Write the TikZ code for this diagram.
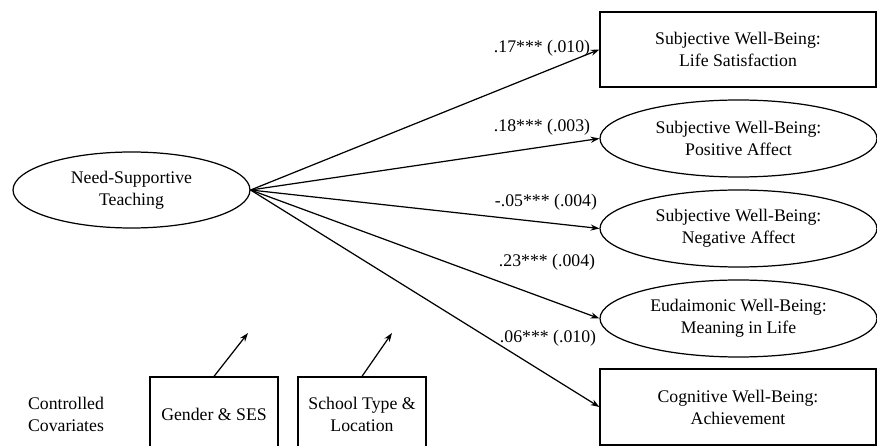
\documentclass[tikz,border=0pt]{standalone}
\usepackage{fontspec}
\setmainfont{Liberation Serif}
\usetikzlibrary{shapes.geometric,arrows.meta}
\tikzset{every node/.style={font=\fontsize{10.1}{12.5}\selectfont,align=center,inner sep=0pt},
         latent/.style={draw,ellipse,line width=0.7pt},
         observed/.style={draw,rectangle,line width=0.7pt},
         path/.style={draw,line width=0.7pt,-{Stealth[length=5pt,width=3.5pt]}},
         coef/.style={draw=none}}
\begin{document}
\begin{tikzpicture}[x=0.02cm,y=-0.02cm]
\useasboundingbox (0,0) rectangle (877,446);
\clip (0,0) rectangle (877,446);
% predictor
\node[latent,minimum width=4.74cm,minimum height=1.52cm] (nst) at (131.5,190) {Need-Supportive\\Teaching};
% outcomes
\node[observed,minimum width=5.52cm,minimum height=1.5cm] (ls) at (738,49.5) {Subjective Well-Being:\\Life Satisfaction};
\node[latent,minimum width=5.54cm,minimum height=1.54cm] (pa) at (738.5,138.5) {Subjective Well-Being:\\Positive Affect};
\node[latent,minimum width=5.54cm,minimum height=1.54cm] (na) at (738.5,228.5) {Subjective Well-Being:\\Negative Affect};
\node[latent,minimum width=5.54cm,minimum height=1.54cm] (ml) at (738.5,318.5) {Eudaimonic Well-Being:\\Meaning in Life};
\node[observed,minimum width=5.52cm,minimum height=1.52cm] (ach) at (738,407) {Cognitive Well-Being:\\Achievement};
% covariates
\node[coef] (cc) at (66,414) {Controlled\\Covariates};
\node[observed,minimum width=2.56cm,minimum height=1.48cm] (gs) at (214,414) {Gender \& SES};
\node[observed,minimum width=2.56cm,minimum height=1.48cm] (stl) at (362,414) {School Type \&\\Location};
\coordinate (gsend) at (248,333);
\coordinate (stlend) at (392,333);

\draw[path] (nst.east) -- (ls.west);
\draw[path] (nst.east) -- (pa.west);
\draw[path] (nst.east) -- (na.west);
\draw[path] (nst.east) -- (ml.west);
\draw[path] (nst.east) -- (ach.west);
\draw[path] (gs.north) -- (gsend);
\draw[path] (stl.north) -- (stlend);

\node[coef] (c1) at (542,48) {.17*** (.010)};
\node[coef] (c2) at (542,127) {.18*** (.003)};
\node[coef] (c3) at (546,202) {-.05*** (.004)};
\node[coef] (c4) at (547,262) {.23*** (.004)};
\node[coef] (c5) at (548,338) {.06*** (.010)};
\end{tikzpicture}
\end{document}
